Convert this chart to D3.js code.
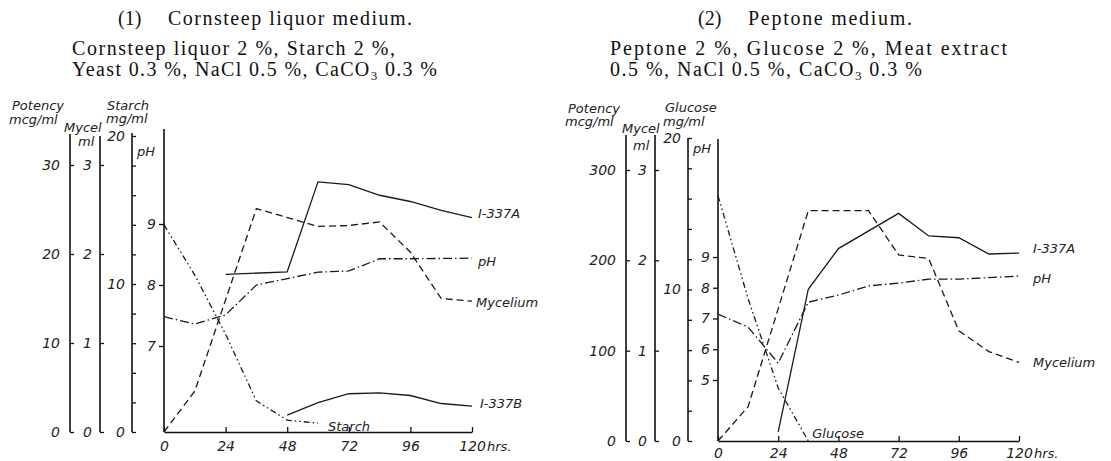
<!DOCTYPE html>
<html>
<head>
<meta charset="utf-8">
<script src="https://cdn.jsdelivr.net/npm/d3@7"></script>
<style>
  body { margin: 0; background: #fff; }
  .ttl { font-family: "Liberation Serif", "Times New Roman", serif; font-size: 20px; fill: #111; }
  .lab { font-family: "DejaVu Sans", sans-serif; font-style: italic; font-size: 13px; fill: #222; }
</style>
</head>
<body>
<svg id="fig" width="1111" height="461"></svg>
<script>

// ---------------------------//
//       DATA                 //
// ---------------------------//

var hourTicks = [0, 24, 48, 72, 96, 120];

// panel 1 : cornsteep liquor medium
var p1_A_hrs  = [24, 48, 60, 72, 84, 96, 108, 120];
var p1_A_val  = [17.7, 18.0, 28.1, 27.8, 26.6, 25.9, 24.9, 24.1];      // mcg/ml
var p1_B_hrs  = [48, 60, 72, 84, 96, 108, 120];
var p1_B_val  = [1.9, 3.3, 4.3, 4.4, 4.1, 3.2, 2.9];                    // mcg/ml
var p1_myc_hrs = [0, 12, 36, 60, 72, 84, 96, 108, 120];
var p1_myc_val = [0, 0.46, 2.51, 2.31, 2.32, 2.36, 2.02, 1.50, 1.47];  // ml
var p1_sug_hrs = [0, 12, 24, 36, 48, 60];
var p1_sug_val = [14.0, 10.6, 6.6, 2.1, 0.8, 0.6];                      // starch mg/ml
var p1_ph_hrs  = [0, 12, 24, 36, 60, 72, 84, 96, 120];
var p1_ph_val  = [7.48, 7.36, 7.51, 8.0, 8.21, 8.23, 8.43, 8.43, 8.44];

var p1_potTicks = [0, 10, 20, 30];
var p1_phTicks  = [7, 8, 9];

// panel 2 : peptone medium
var p2_A_hrs  = [24, 36, 48, 72, 84, 96, 108, 120];
var p2_A_val  = [10, 168, 213, 252, 227, 225, 207, 208];
var p2_myc_hrs = [0, 12, 36, 60, 72, 84, 96, 108, 120];
var p2_myc_val = [0, 0.38, 2.55, 2.55, 2.06, 2.02, 1.22, 0.99, 0.87];
var p2_sug_hrs = [0, 12, 24, 36];
var p2_sug_val = [16.2, 9.4, 3.5, 0];                                   // glucose mg/ml
var p2_ph_hrs  = [0, 12, 24, 36, 48, 60, 72, 84, 96, 120];
var p2_ph_val  = [7.14, 6.72, 5.55, 7.53, 7.76, 8.06, 8.15, 8.28, 8.28, 8.38];

var p2_potTicks = [0, 100, 200, 300];
var p2_phTicks  = [5, 6, 7, 8, 9];

var mycTicks = [0, 1, 2, 3];
var sugLabels = [0, 10, 20];
var sugMinor  = d3.range(0, 21, 2);

function pairs(h, v) { return h.map(function(d, i) { return [d, v[i]]; }); }

var svg = d3.select("#fig");
var fmt = d3.format("d");

// ---------------------------//
//       TITLES               //
// ---------------------------//

function title(x, y, len, parts) {
  var t = svg.append("text").attr("class", "ttl").attr("x", x).attr("y", y);
  if (len) t.attr("textLength", len).attr("lengthAdjust", "spacing");
  parts.forEach(function(p) {
    var s = t.append("tspan").text(p.t);
    if (p.dy) s.attr("dy", p.dy);
    if (p.fs) s.attr("font-size", p.fs);
  });
}

title(118, 25, 0, [{t: "(1)"}]);
title(168, 25, 244, [{t: "Cornsteep liquor medium."}]);
title(72, 55, 323, [{t: "Cornsteep liquor 2 %, Starch 2 %,"}]);
title(72, 76, 365, [{t: "Yeast 0.3 %, NaCl 0.5 %, CaCO"}, {t: "3", dy: 4, fs: 13}, {t: " 0.3 %", dy: -4}]);

title(698, 25, 0, [{t: "(2)"}]);
title(748, 25, 164, [{t: "Peptone medium."}]);
title(610, 55, 397, [{t: "Peptone 2 %, Glucose 2 %, Meat extract"}]);
title(610, 76, 312, [{t: "0.5 %, NaCl 0.5 %, CaCO"}, {t: "3", dy: 4, fs: 13}, {t: " 0.3 %", dy: -4}]);

// ---------------------------//
//       PANELS               //
// ---------------------------//

function styleAxis(g) {
  g.select(".domain").remove();
  g.selectAll(".tick line").attr("stroke", "#111").attr("stroke-width", 1.3);
  g.selectAll(".tick text").attr("font-family", "DejaVu Sans, sans-serif")
    .attr("font-style", "italic").attr("font-size", 14).attr("fill", "#222");
}

function vline(g, x, y1, y2) {
  g.append("line").attr("x1", x).attr("x2", x).attr("y1", y1).attr("y2", y2)
    .attr("stroke", "#111").attr("stroke-width", 1.6);
}

function drawPanel(p) {
  var g = svg.append("g");

  var x    = d3.scaleLinear().domain([0, 120]).range([p.x0, p.x1]);
  var yPot = d3.scaleLinear().domain([0, p.potMax]).range([p.base, p.top3]);
  var yMyc = d3.scaleLinear().domain([0, 3]).range([p.base, p.top3]);
  var ySug = d3.scaleLinear().domain([0, 20]).range([p.base, p.sug20]);
  var yPH  = d3.scaleLinear().domain(p.phDom).range(p.phRng);

  // potency axis
  vline(g, p.axPot, p.tops[0], p.base);
  g.append("g").attr("transform", "translate(" + p.axPot + ",0)")
    .call(d3.axisLeft(yPot).tickValues(p.potTicks).tickFormat(fmt).tickSize(-4).tickPadding(10))
    .call(styleAxis);

  // mycelium axis
  vline(g, p.axMyc, p.tops[1], p.base);
  g.append("g").attr("transform", "translate(" + p.axMyc + ",0)")
    .call(d3.axisLeft(yMyc).tickValues(mycTicks).tickFormat(fmt).tickSize(-4).tickPadding(8))
    .call(styleAxis);

  // starch / glucose axis
  vline(g, p.axSug, p.tops[2], p.base);
  g.append("g").attr("transform", "translate(" + p.axSug + ",0)")
    .call(d3.axisLeft(ySug).tickValues(sugMinor).tickSize(-4).tickFormat(""))
    .call(styleAxis);
  g.append("g").attr("transform", "translate(" + p.axSug + ",0)")
    .call(d3.axisLeft(ySug).tickValues(sugLabels).tickFormat(fmt).tickSize(0).tickPadding(7))
    .call(styleAxis);

  // pH axis
  vline(g, p.x0, p.tops[3], p.base);
  g.append("g").attr("transform", "translate(" + p.x0 + ",0)")
    .call(d3.axisLeft(yPH).tickValues(p.phTicks).tickFormat(fmt).tickSize(5).tickPadding(3))
    .call(styleAxis);

  // time axis
  var xa = g.append("g").attr("transform", "translate(0," + p.base + ")")
    .call(d3.axisBottom(x).tickValues(hourTicks).tickSize(-5).tickSizeOuter(0).tickPadding(p.xPad));
  xa.select(".domain").attr("stroke", "#111").attr("stroke-width", 1.6);
  xa.selectAll(".tick line").attr("stroke", "#111").attr("stroke-width", 1.3);
  xa.selectAll(".tick text").attr("font-family", "DejaVu Sans, sans-serif")
    .attr("font-style", "italic").attr("font-size", 14).attr("fill", "#222");
  g.append("text").attr("class", "lab").attr("font-size", 14)
    .attr("x", x(120) + 15).attr("y", p.base + p.xPad + 10).text("hrs.");

  // axis titles
  p.heads.forEach(function(h) {
    g.append("text").attr("class", "lab").attr("x", h[0]).attr("y", h[1]).text(h[2]);
  });

  // curves
  var series = [
    {d: pairs(p.A_hrs, p.A_val), y: yPot, dash: null, name: "I-337A"},
    {d: pairs(p.myc_hrs, p.myc_val), y: yMyc, dash: "7,4", name: "Mycelium"},
    {d: pairs(p.sug_hrs, p.sug_val), y: ySug, dash: "6,3,1.5,3,1.5,3", name: p.sugName},
    {d: pairs(p.ph_hrs, p.ph_val), y: yPH, dash: "9,3,1.5,3", name: "pH"}
  ];
  if (p.B_hrs) series.push({d: pairs(p.B_hrs, p.B_val), y: yPot, dash: null, name: "I-337B"});

  series.forEach(function(s) {
    var line = d3.line().x(function(d) { return x(d[0]); }).y(function(d) { return s.y(d[1]); });
    g.append("path").datum(s.d).attr("d", line)
      .attr("fill", "none").attr("stroke", "#1a1a1a").attr("stroke-width", 1.3)
      .attr("stroke-dasharray", s.dash);
    var last = s.d[s.d.length - 1];
    var off = p.labOff[s.name];
    g.append("text").attr("class", "lab").attr("font-size", 15)
      .attr("x", x(last[0]) + off[0]).attr("y", s.y(last[1]) + off[1]).text(s.name);
  });
}

drawPanel({
  x0: 164, x1: 472, base: 432, top3: 165, sug20: 136, xPad: 9,
  potMax: 30, phDom: [7, 9], phRng: [346, 224],
  axPot: 70, axMyc: 100, axSug: 132, tops: [134, 136, 133, 129],
  potTicks: p1_potTicks, phTicks: p1_phTicks,
  A_hrs: p1_A_hrs, A_val: p1_A_val, B_hrs: p1_B_hrs, B_val: p1_B_val,
  myc_hrs: p1_myc_hrs, myc_val: p1_myc_val,
  sug_hrs: p1_sug_hrs, sug_val: p1_sug_val, sugName: "Starch",
  ph_hrs: p1_ph_hrs, ph_val: p1_ph_val,
  labOff: {"I-337A": [6, 0], "pH": [6, 8], "Mycelium": [4, 6], "Starch": [10, 8], "I-337B": [8, 2]},
  heads: [[12, 110, "Potency"], [9, 124, "mcg/ml"], [64, 132, "Mycel"], [78, 146, "ml"],
          [107, 110, "Starch"], [106, 123, "mg/ml"], [137, 156, "pH"]]
});

drawPanel({
  x0: 718, x1: 1019, base: 441, top3: 170, sug20: 138, xPad: 7,
  potMax: 300, phDom: [5, 9], phRng: [380, 257],
  axPot: 626, axMyc: 655, axSug: 688, tops: [135, 135, 138, 139],
  potTicks: p2_potTicks, phTicks: p2_phTicks,
  A_hrs: p2_A_hrs, A_val: p2_A_val,
  myc_hrs: p2_myc_hrs, myc_val: p2_myc_val,
  sug_hrs: p2_sug_hrs, sug_val: p2_sug_val, sugName: "Glucose",
  ph_hrs: p2_ph_hrs, ph_val: p2_ph_val,
  labOff: {"I-337A": [14, 0], "pH": [14, 7], "Mycelium": [14, 5], "Glucose": [4, -3]},
  heads: [[568, 113, "Potency"], [565, 126, "mcg/ml"], [622, 133, "Mycel"], [633, 150, "ml"],
          [665, 112, "Glucose"], [663, 126, "mg/ml"], [693, 153, "pH"]]
});

</script>
</body>
</html>
